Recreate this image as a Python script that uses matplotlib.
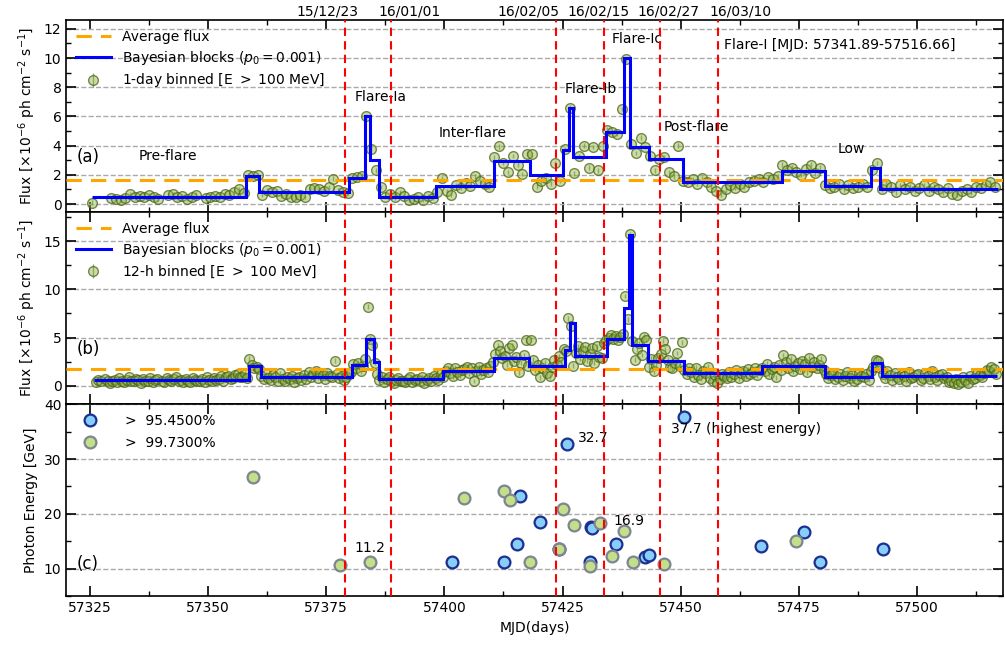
import numpy as np
import matplotlib
matplotlib.use("Agg")
import matplotlib.pyplot as plt
import matplotlib.transforms as mtransforms
from matplotlib.ticker import MultipleLocator

# ---- panel (a): 1-day binned flux (bin centres start at 57325.5, one per day)
day0_a = 57325.5
flux_a = [0.1, np.nan, np.nan, np.nan, 0.4,
          0.35, 0.3, 0.4, 0.7, 0.45, 0.55, 0.5, 0.6, 0.45, 0.35,
          np.nan, 0.6, 0.7, 0.45, 0.55, 0.35, 0.5, 0.65, np.nan, 0.4,
          0.45, 0.55, 0.5, 0.7, 0.6, 0.85, 1.0, 0.75, 2.0, 1.9,
          2.0, 0.6, 0.95, 0.85, 0.9, 0.55, 0.7, 0.5, 0.45, 0.65,
          0.5, 1.05, 1.1, 1.0, 0.9, 1.15, 1.75, 0.95, 0.85, 0.75,
          1.8, 1.85, 1.95, 6.0, 3.8, 2.3, 1.15, 0.5, 0.7, 0.45,
          0.8, 0.55, 0.3, 0.35, 0.45, 0.3, 0.55, 0.4, 0.85, 1.8,
          0.9, 0.65, 1.3, 1.1, 1.45, 1.25, 1.9, 1.6, 1.4, 1.2,
          3.2, 3.95, 2.8, 2.2, 3.3, 2.7, 2.05, 3.45, 3.4, 1.2,
          1.6, 1.8, 1.4, 2.8, 1.6, 3.75, 6.6, 2.1, 3.3, 4.0,
          2.5, 3.9, 2.3, 4.0, 5.1, 4.9, 4.8, 6.5, 9.9, 4.1,
          3.5, 4.55, 3.9, 3.3, 2.3, 3.1, 3.2, 2.2, 1.9, 4.0,
          1.6, 1.5, 1.7, 1.4, 1.8, 1.5, 1.2, 0.9, 0.6, 1.0,
          1.3, 1.1, 1.4, 1.2, 1.5, 1.6, 1.75, 1.5, 1.85, 1.7,
          1.9, 2.7, 2.3, 2.5, 2.2, 2.0, 2.4, 2.7, 2.1, 2.5,
          1.3, 1.1, 1.2, 1.4, 1.0, 1.3, 1.1, 1.2, 1.4, 1.2,
          2.3, 2.8, 1.0, 1.4, 1.2, 0.8, 1.3, 1.0, 1.2, 0.9,
          1.1, 1.3, 0.9, 1.2, 1.0, 0.8, 1.1, 0.7, 0.6, 0.9,
          1.0, 0.8, 1.2, 1.1, 1.3, 1.5, 1.2]
err_a = 0.15

bb_edges_a = [57325.4, 57358.0, 57360.8, 57379.9, 57383.1, 57384.3, 57386.2,
              57398.3, 57410.4, 57418.2, 57425.2, 57426.3, 57427.3, 57434.3,
              57438.1, 57439.2, 57443.4, 57450.4, 57471.4, 57480.5, 57490.3,
              57492.2, 57517.2]
bb_flux_a = [0.5, 1.9, 0.84, 1.77, 6.0, 3.0, 0.48, 1.23, 2.93, 1.98, 3.7,
             6.6, 3.2, 4.9, 10.0, 3.9, 3.1, 1.5, 2.25, 1.23, 2.46, 1.02]
avg_a = 1.65

# ---- panel (b): 12-h binned flux (bin centres start at 57326.25, every 0.5 d)
day0_b = 57326.25
flux_b = [0.35, 0.6, 0.5, np.nan, 0.7, 0.45, 0.3, 0.55, 0.6, 0.4,
          0.8, 0.5, 0.35, 0.65, 0.9, 0.5, 0.45, 0.7, 0.6, 0.3,
          0.75, 0.5, 0.55, 0.85, 0.4, 0.6, 0.7, np.nan, 0.5, 0.35,
          0.8, 0.6, 0.45, 0.7, 0.9, 0.5, 0.6, 0.4, 0.75, 0.55,
          0.35, 0.8, 0.6, 0.45, 0.5, 0.7, 0.4, 0.9, 0.65, 0.5,
          0.85, 0.6, 0.7, 1.0, 0.55, 0.9, 1.05, 0.75, 0.8, 1.1,
          1.2, 0.9, 0.95, 1.3, 0.85, 2.8, 2.2, 1.9, 2.0, 1.7,
          1.0, 0.7, 1.2, 0.85, 0.6, 1.1, 0.9, 0.5, 1.3, 0.75,
          0.55, 0.9, 0.7, 1.05, 0.4, 0.8, 0.95, 0.6, 1.1, 0.75,
          1.4, 0.9, 1.2, 1.5, 0.85, 1.3, 1.1, 0.7, 1.35, 1.0,
          0.9, 2.6, 1.2, 0.8, 1.05, 0.65, 0.9, 1.2, 1.4, 2.3,
          1.9, 2.4, 1.5, 2.1, 2.8, 8.2, 4.9, 4.2, 2.4, 1.25,
          0.6, 0.9, 0.4, 0.7, 0.95, 0.5, 0.3, 0.65, 0.8, 0.45,
          0.55, 0.35, 0.7, 0.9, 0.4, 0.6, 0.75, 0.5, 0.95, 0.3,
          0.6, 0.8, 0.45, 1.0, 0.85, 0.6, 1.2, 0.9, 1.5, 1.8,
          1.3, 1.0, 1.9, 1.4, 1.1, 1.6, 1.7, 2.0, 1.3, 1.8,
          0.5, 1.5, 2.0, 1.2, 1.6, 1.9, 1.4, 2.1, 2.5, 3.3,
          4.2, 3.6, 2.9, 3.1, 2.2, 3.9, 4.2, 2.6, 3.0, 1.4,
          2.4, 3.2, 4.7, 2.1, 4.8, 2.7, 1.6, 2.2, 0.9, 1.8,
          2.4, 1.3, 1.0, 2.0, 2.7, 2.2, 3.1, 2.5, 3.8, 3.6,
          7.0, 6.2, 2.1, 3.4, 4.1, 2.8, 3.6, 4.0, 2.6, 3.3,
          3.9, 2.4, 4.1, 3.0, 2.9, 4.4, 4.8, 5.0, 5.3, 4.9,
          5.2, 4.8, 5.1, 5.4, 9.3, 6.9, 15.7, 4.65, 2.7, 3.8,
          4.4, 3.2, 5.1, 4.8, 2.0, 2.8, 1.5, 2.2, 2.9, 3.3,
          4.65, 3.8, 2.7, 2.0, 1.8, 2.4, 3.4, 2.1, 4.5, 1.6,
          1.2, 1.8, 1.4, 0.9, 1.9, 1.1, 0.7, 1.5, 1.3, 2.0,
          0.8, 0.5, 1.1, 0.3, 0.7, 1.2, 1.0, 0.8, 1.4, 0.9,
          1.2, 1.6, 0.8, 1.3, 1.5, 1.0, 1.7, 1.2, 1.4, 1.8,
          1.1, 1.6, 1.9, 1.5, 2.3, 1.2, 1.7, 2.0, 0.9, 2.2,
          1.6, 3.2, 2.5, 1.9, 2.8, 1.5, 2.1, 2.4, 1.7, 2.6,
          2.3, 1.4, 2.9, 2.0, 2.5, 1.8, 2.2, 2.8, 1.6, 1.2,
          0.8, 1.1, 1.3, 0.7, 0.9, 1.2, 0.6, 1.0, 1.4, 0.8,
          1.1, 0.5, 0.7, 1.3, 1.0, 0.9, 1.2, 0.6, 1.5, 2.0,
          2.7, 2.6, 1.8, 1.2, 0.8, 1.5, 1.1, 0.6, 1.3, 0.9,
          0.7, 1.2, 1.0, 0.5, 1.4, 0.8, 0.9, 1.1, 1.2, 0.6,
          0.8, 1.3, 1.0, 0.7, 1.5, 0.9, 0.6, 1.1, 1.2, 0.8,
          0.9, 0.4, 0.5, 0.3, 0.7, 0.2, 0.4, 0.9, 0.6, 0.3,
          1.0, 0.7, 0.8, 1.2, 1.1, 0.9, 1.3, 1.6, 1.5, 2.0,
          1.7, 1.2]
err_b = 0.25

bb_edges_b = [57325.8, 57358.7, 57361.2, 57380.5, 57383.5, 57385.0, 57386.2,
              57399.8, 57410.4, 57418.0, 57425.6, 57426.5, 57427.6, 57434.5,
              57437.9, 57439.0, 57439.6, 57443.0, 57450.6, 57467.2, 57480.5,
              57490.5, 57492.6, 57517.0]
bb_flux_b = [0.6, 2.1, 0.94, 2.2, 4.9, 2.5, 0.7, 1.56, 2.9, 2.1, 3.75, 6.5,
             3.1, 4.9, 8.1, 15.6, 4.2, 2.6, 1.35, 2.1, 0.94, 2.4, 1.04]
avg_b = 1.75

# ---- panel (c): highest energy photons
mjd_95 = [57401.6, 57412.7, 57415.4, 57415.9, 57420.3, 57424.2, 57426.0,
          57430.9, 57431.1, 57431.3, 57436.3, 57442.4, 57443.4, 57450.7,
          57466.9, 57476.1, 57479.4, 57492.9]
energy_95 = [11.2, 11.2, 14.6, 23.2, 18.5, 13.6, 32.7, 11.3, 17.7, 17.5,
             14.6, 12.2, 12.6, 37.7, 14.1, 16.8, 11.2, 13.6]
mjd_997 = [57359.6, 57378.0, 57384.3, 57404.1, 57412.6, 57413.8, 57418.2,
           57424.3, 57425.1, 57427.4, 57430.9, 57432.9, 57435.5, 57438.0,
           57439.9, 57446.5, 57474.4]
energy_997 = [26.7, 10.7, 11.2, 22.9, 24.1, 22.6, 11.3, 13.6, 20.9, 18.0,
              10.6, 18.3, 12.4, 16.9, 11.2, 10.9, 15.1]

# ---- period boundaries and labels
boundaries = [57379.0, 57388.6, 57423.7, 57433.7, 57445.6, 57457.8]
date_labels = ['15/12/23', '16/01/01', '16/02/05', '16/02/15', '16/02/27', '16/03/10']
date_label_x = [57375.2, 57392.6, 57417.8, 57432.6, 57447.5, 57462.7]
period_names = ['Pre-flare', 'Flare-Ia', 'Inter-flare', 'Flare-Ib', 'Flare-Ic', 'Post-flare', 'Low']
period_x = [57341.5, 57386.4, 57405.9, 57430.9, 57440.7, 57453.4, 57486.2]
period_y = [3.3, 7.3, 4.85, 7.85, 11.3, 5.3, 3.8]

mfc = (0.55, 0.7, 0.25, 0.45)
mec = (0.3, 0.4, 0.1, 0.75)
ecol = (0.3, 0.4, 0.1, 0.6)
grid_kw = dict(color='#aaaaaa', ls='--', lw=1.0)

fig, axes = plt.subplots(3, 1, figsize=(10.05, 6.46), dpi=100, sharex=True)
fig.subplots_adjust(left=0.066, right=0.998, top=0.969, bottom=0.077, hspace=0)
ax_a, ax_b, ax_c = axes

flux_unit = r'Flux [$\times10^{-6}$ ph cm$^{-2}$ s$^{-1}$]'


def light_curve(ax, mjd, flux, err, edges, blocks, avg, lab):
    l_avg = ax.axhline(avg, color='orange', ls='--', lw=2.2, dashes=(5, 3), zorder=3)
    l_pts = ax.errorbar(mjd, flux, yerr=err, fmt='o', ms=7, mfc=mfc, mec=mec,
                        ecolor=ecol, elinewidth=1, zorder=2)
    l_bb = ax.stairs(blocks, edges, baseline=None, color='blue', lw=2.2, zorder=4)
    ax.legend([l_avg, l_bb, l_pts],
              ['Average flux', 'Bayesian blocks ($p_0 = 0.001$)', lab],
              loc='upper left', frameon=False, fontsize=10, handlelength=2.5,
              borderaxespad=0.3, labelspacing=0.35)
    ax.set_ylabel(flux_unit, fontsize=10)


# panel (a)
mjd_a = day0_a + np.arange(len(flux_a))
light_curve(ax_a, mjd_a, flux_a, err_a, bb_edges_a, bb_flux_a, avg_a,
            '1-day binned [E $>$ 100 MeV]')
ax_a.set_ylim(-0.55, 12.6)
ax_a.yaxis.set_major_locator(MultipleLocator(2))
ax_a.yaxis.set_minor_locator(MultipleLocator(1))
ax_a.text(0.011, 0.286, '(a)', transform=ax_a.transAxes, fontsize=12, va='center')
for name, x, y in zip(period_names, period_x, period_y):
    ax_a.text(x, y, name, ha='center', va='center', fontsize=10)
ax_a.text(57459.1, 10.9, 'Flare-I [MJD: 57341.89-57516.66]', ha='left', va='center', fontsize=10)
trans = mtransforms.blended_transform_factory(ax_a.transData, ax_a.transAxes)
for x, lab in zip(date_label_x, date_labels):
    ax_a.text(x, 1.01, lab, transform=trans, ha='center', va='bottom', fontsize=10)

# panel (b)
mjd_b = day0_b + 0.5 * np.arange(len(flux_b))
light_curve(ax_b, mjd_b, flux_b, err_b, bb_edges_b, bb_flux_b, avg_b,
            '12-h binned [E $>$ 100 MeV]')
ax_b.set_ylim(-1.9, 18.0)
ax_b.yaxis.set_major_locator(MultipleLocator(5))
ax_b.yaxis.set_minor_locator(MultipleLocator(2.5))
ax_b.text(0.011, 0.286, '(b)', transform=ax_b.transAxes, fontsize=12, va='center')

# panel (c)
ax_c.plot(mjd_95, energy_95, 'o', ms=8.5, mfc='#87cefa', mec='#1a2f8f', mew=1.6,
          label='>  95.4500%', zorder=3)
ax_c.plot(mjd_997, energy_997, 'o', ms=8.5, mfc='#c4df8a', mec='#7d8590', mew=1.6,
          label='>  99.7300%', zorder=3)
ax_c.set_ylim(5, 40)
ax_c.yaxis.set_major_locator(MultipleLocator(10))
ax_c.yaxis.set_minor_locator(MultipleLocator(5))
ax_c.set_ylabel('Photon Energy [GeV]', fontsize=10)
ax_c.set_xlabel('MJD(days)', fontsize=10)
ax_c.legend(loc='upper left', frameon=False, fontsize=10, handletextpad=1.5,
            borderaxespad=0.3, labelspacing=0.6)
ax_c.text(0.011, 0.17, '(c)', transform=ax_c.transAxes, fontsize=12, va='center')
ax_c.text(57380.9, 13.8, '11.2', fontsize=10, va='center')
ax_c.text(57428.2, 33.9, '32.7', fontsize=10, va='center')
ax_c.text(57435.8, 18.8, '16.9', fontsize=10, va='center')
ax_c.text(57447.9, 35.4, '37.7 (highest energy)', fontsize=10, va='center')

for ax in axes:
    for b in boundaries:
        ax.axvline(b, color='red', ls='--', lw=1.5, dashes=(4, 2.5), zorder=5)
    ax.yaxis.grid(True, **grid_kw)
    ax.set_axisbelow(True)
    ax.tick_params(which='both', direction='in', top=True, right=True, labelsize=10)
    ax.tick_params(which='major', length=7, width=1.2)
    ax.tick_params(which='minor', length=3.5, width=1)
    ax.xaxis.set_major_locator(MultipleLocator(25))
    ax.xaxis.set_minor_locator(MultipleLocator(12.5))
    for s in ax.spines.values():
        s.set_linewidth(1.2)
ax_c.set_xlim(57320.0, 57518.2)
fig.align_ylabels(axes)

fig.savefig('out.png', dpi=100)
